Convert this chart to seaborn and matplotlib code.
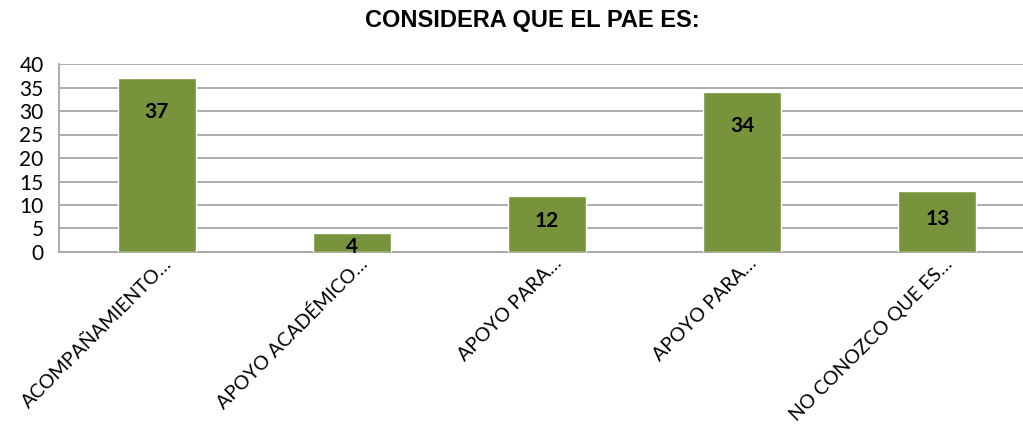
import seaborn as sns
import matplotlib.pyplot as plt
import matplotlib.transforms as mtrans
import pandas as pd

# Survey answers: "Considera que el PAE es:"
categories = ['ACOMPAÑAMIENTO…', 'APOYO ACADÉMICO…', 'APOYO PARA…', 'APOYO PARA… ', 'NO CONOZCO QUE ES…']
tick_labels = ['ACOMPAÑAMIENTO…', 'APOYO ACADÉMICO…', 'APOYO PARA…', 'APOYO PARA…', 'NO CONOZCO QUE ES…']
counts = [37, 4, 12, 34, 13]

df = pd.DataFrame({'cat': categories, 'n': counts})

sns.set_style('white')
plt.rcParams['font.family'] = ['Lato', 'DejaVu Sans']
plt.rcParams['text.color'] = 'black'
plt.rcParams['xtick.color'] = 'black'
plt.rcParams['ytick.color'] = 'black'

fig = plt.figure(figsize=(10.23, 4.28), dpi=100)
ax = fig.add_axes([59 / 1023, 1 - 252 / 428, 976 / 1023, 188 / 428])

sns.barplot(data=df, x='cat', y='n', color='#77933C', saturation=1, width=0.4, ax=ax, zorder=3)

ax.set_ylim(0, 40)
ax.set_yticks(range(0, 41, 5))
ax.yaxis.grid(True, color='#A6A6A6', linewidth=1.3, zorder=0)
ax.set_axisbelow(True)
for s in ['top', 'right']:
    ax.spines[s].set_visible(False)
for s in ['left', 'bottom']:
    ax.spines[s].set_color('#A6A6A6')
    ax.spines[s].set_linewidth(1.3)
ax.tick_params(axis='both', length=0, labelsize=15, labelcolor='black')
ax.tick_params(axis='y', pad=11)
ax.set_xlabel('')
ax.set_ylabel('')
ax.set_xticks(range(len(tick_labels)))
ax.set_xticklabels(tick_labels, rotation=45, ha='right', rotation_mode='anchor', fontsize=14)
shift = mtrans.ScaledTranslation(6 / 100, 2 / 100, fig.dpi_scale_trans)
for lab in ax.get_xticklabels():
    lab.set_transform(lab.get_transform() + shift)

# value labels inside the bar ends
for i, v in enumerate(counts):
    y = max(v - 7.2, v / 2 + 0.5) if v > 6 else 1.1
    ax.text(i, y, str(v), ha='center', va='center', fontsize=15, fontweight='bold',
            color='black', zorder=4)

fig.text(532 / 1023, 1 - 20 / 428, 'CONSIDERA QUE EL PAE ES:', ha='center', va='center',
         fontsize=17, fontweight='bold', color='black', family=['Liberation Sans', 'DejaVu Sans'])

fig.savefig('out.png', dpi=100)
